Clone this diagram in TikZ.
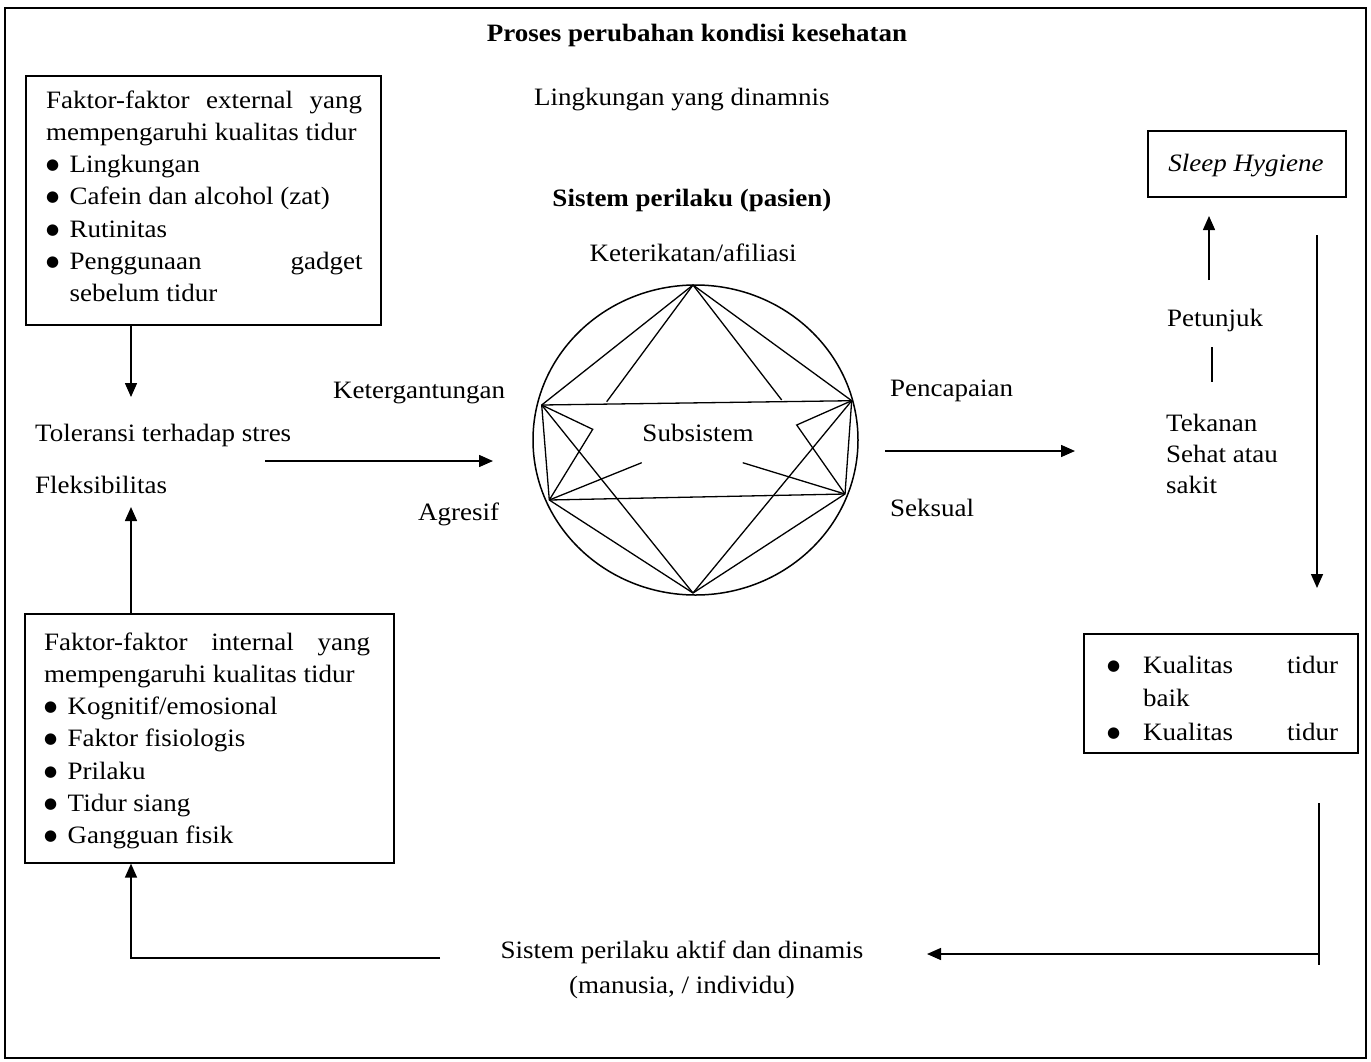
\documentclass[tikz,border=0pt]{standalone}
\usepackage{fontspec}
\setmainfont{Liberation Serif}[FakeStretch=1.08]
\newfontfamily\dejavu{DejaVu Sans}
\usetikzlibrary{arrows.meta,shapes.geometric}
\newcommand{\bdot}{\raisebox{3pt}{\fontsize{15}{15}\dejavu ●}}
\newcommand{\bul}{\makebox[23.5pt][l]{\bdot}}
\begin{document}
\begin{tikzpicture}[x=1pt,y=-1pt,
  txt/.style={inner sep=0pt, font=\fontsize{25}{32.3}\selectfont},
  box/.style={draw, line width=1.6pt, inner sep=0pt, anchor=north west},
  ln/.style={line width=1.3pt},
  arr/.style={line width=1.5pt, -{Triangle[length=14pt,width=12pt]}}]
\useasboundingbox (0,0) rectangle (1371,1061);
% outer frame
\draw[line width=2.2pt] (5,8) rectangle (1366,1058);

% title and headings
\node[txt, anchor=base] (title) at (697,41) {\bfseries Proses perubahan kondisi kesehatan};
\node[txt, anchor=base west] (ling) at (534,105) {Lingkungan yang dinamnis};
\node[txt, anchor=base] (sp) at (692,206) {\bfseries Sistem perilaku (pasien)};
\node[txt, anchor=base] (ket) at (693,261) {Keterikatan/afiliasi};

% external box (base anchor = last line)
\node[box, minimum width=355pt, minimum height=249pt] (ext) at (25,75) {};
\node[txt, anchor=base west, align=left] (extt) at (46,301.8) {%
\makebox[316pt][s]{Faktor-faktor external yang}\\
mempengaruhi kualitas tidur\\
\bul Lingkungan\\
\bul Cafein dan alcohol (zat)\\
\bul Rutinitas\\
\bul\makebox[293pt][s]{Penggunaan gadget}\\
\hspace*{23.5pt}sebelum tidur};

% internal box
\node[box, minimum width=369pt, minimum height=249pt] (int) at (24,613) {};
\node[txt, anchor=base west, align=left] (intt) at (44,843.8) {%
\makebox[326pt][s]{Faktor-faktor internal yang}\\
mempengaruhi kualitas tidur\\
\bul Kognitif/emosional\\
\bul Faktor fisiologis\\
\bul Prilaku\\
\bul Tidur siang\\
\bul Gangguan fisik};

% left texts
\node[txt, anchor=base west] (tol) at (35,441) {Toleransi terhadap stres};
\node[txt, anchor=base west] (flk) at (35,493) {Fleksibilitas};

% labels around circle
\node[txt, anchor=base west] (kg) at (333,398) {Ketergantungan};
\node[txt, anchor=base west] (ag) at (418,520) {Agresif};
\node[txt, anchor=base west] (pc) at (890,396) {Pencapaian};
\node[txt, anchor=base west] (sk) at (890,516) {Seksual};

% circle and subsystem figure
\node[draw, ellipse, line width=1.5pt, minimum width=325pt, minimum height=310pt, inner sep=0pt] (circ) at (695.5,440) {};
\coordinate (T) at (693,285);
\coordinate (B) at (693,593);
\coordinate (LU) at (541.7,405);
\coordinate (LL) at (549.3,500);
\coordinate (RU) at (851.7,400.7);
\coordinate (RL) at (845,494);
\coordinate (TL) at (606.7,401.7);
\coordinate (TR) at (781.7,400);
\coordinate (CL) at (592.7,429.3);
\coordinate (CR) at (796.7,425);
\coordinate (SL) at (641.7,462.7);
\coordinate (SR) at (742.7,462.7);
\draw[ln, line join=round] (LU) -- (T) -- (RU);
\draw[ln] (T) -- (TL);
\draw[ln] (T) -- (TR);
\draw[ln, line join=round] (LU) -- (RU) -- (RL) -- (LL) -- cycle;
\draw[ln] (LU) -- (B);
\draw[ln] (RU) -- (B);
\draw[ln] (LL) -- (B);
\draw[ln] (RL) -- (B);
\draw[ln] (LU) -- (CL) -- (LL);
\draw[ln] (RU) -- (CR) -- (RL);
\draw[ln] (LL) -- (SL);
\draw[ln] (RL) -- (SR);
\node[txt, anchor=base] (sub) at (698,441) {Subsistem};

% right side
\node[box, minimum width=198pt, minimum height=66pt] (shb) at (1147,130) {};
\node[txt, anchor=base] (sh) at (1246,171) {\itshape Sleep Hygiene};
\node[txt, anchor=base west] (pet) at (1167,326) {Petunjuk};
\node[txt, anchor=base west, align=left, font=\fontsize{25}{31}\selectfont] (tek) at (1166,493) {Tekanan\\Sehat atau\\sakit};

\node[box, minimum width=274pt, minimum height=119pt] (kb) at (1083,633) {};
\node[txt, anchor=base west, align=left, font=\fontsize{25}{33.5}\selectfont] (kbt) at (1107,740) {%
\makebox[36pt][l]{\bdot}\makebox[195pt][s]{Kualitas tidur}\\
\hspace*{36pt}baik\\
\makebox[36pt][l]{\bdot}\makebox[195pt][s]{Kualitas tidur}};

% bottom text
\node[txt, anchor=base, align=center, font=\fontsize{25}{35}\selectfont] (bot) at (682,993) {Sistem perilaku aktif dan dinamis\\(manusia, / individu)};

% connectors
\coordinate (a1) at (131,397);
\draw[arr] (ext.south -| a1) -- (a1);
\coordinate (a2) at (131,507);
\draw[arr] (int.north -| a2) -- (a2);
\coordinate (m1s) at (265,461);
\coordinate (m1e) at (493,461);
\draw[arr] (m1s) -- (m1e);
\coordinate (m2s) at (885,451);
\coordinate (m2e) at (1075,451);
\draw[arr] (m2s) -- (m2e);
\coordinate (p1) at (1209,280);
\coordinate (p2) at (1209,216);
\draw[arr] (p1) -- (p2);
\coordinate (q1) at (1212,347);
\coordinate (q2) at (1212,382);
\draw[ln] (q1) -- (q2);
\coordinate (d1) at (1317,235);
\coordinate (d2) at (1317,588);
\draw[arr] (d1) -- (d2);
\coordinate (r1) at (1319,803);
\coordinate (r2) at (1319,965);
\draw[ln] (r1) -- (r2);
\coordinate (r3) at (1319,954);
\coordinate (r4) at (927,954);
\draw[arr] (r3) -- (r4);
\coordinate (b1) at (440,958);
\coordinate (b2) at (131,958);
\draw[arr] (b1) -- (b2) -- (int.south -| b2);
\end{tikzpicture}
\end{document}
